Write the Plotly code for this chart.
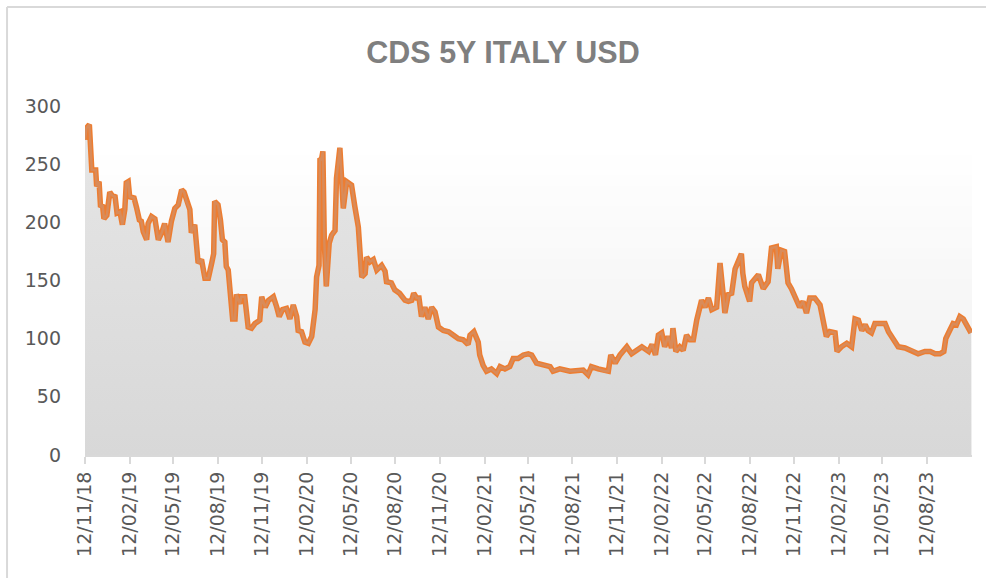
import plotly.graph_objects as go

# ---- data ----
dates = [
    "2018-11-12", "2018-11-15", "2018-11-21", "2018-11-23", "2018-11-26", "2018-12-04", "2018-12-06",
    "2018-12-11", "2018-12-14", "2018-12-18", "2018-12-21", "2018-12-27", "2019-01-02", "2019-01-07",
    "2019-01-13", "2019-01-17", "2019-01-23", "2019-01-28", "2019-02-02", "2019-02-05", "2019-02-09",
    "2019-02-12", "2019-02-21", "2019-02-26", "2019-03-04", "2019-03-08", "2019-03-12", "2019-03-19",
    "2019-03-22", "2019-03-29", "2019-04-05", "2019-04-12", "2019-04-19", "2019-04-25", "2019-05-02",
    "2019-05-09", "2019-05-16", "2019-05-23", "2019-05-30", "2019-06-04", "2019-06-09", "2019-06-16",
    "2019-06-19", "2019-06-26", "2019-07-03", "2019-07-10", "2019-07-17", "2019-07-24", "2019-07-31",
    "2019-08-04", "2019-08-06", "2019-08-13", "2019-08-18", "2019-08-22", "2019-08-27", "2019-08-30",
    "2019-09-03", "2019-09-06", "2019-09-12", "2019-09-17", "2019-09-20", "2019-09-27", "2019-09-30",
    "2019-10-07", "2019-10-14", "2019-10-21", "2019-10-28", "2019-11-04", "2019-11-07", "2019-11-11",
    "2019-11-18", "2019-11-25", "2019-12-05", "2019-12-12", "2019-12-17", "2019-12-24", "2020-01-01",
    "2020-01-08", "2020-01-15", "2020-01-22", "2020-01-25", "2020-02-01", "2020-02-08", "2020-02-15",
    "2020-02-22", "2020-02-29", "2020-03-03", "2020-03-08", "2020-03-09", "2020-03-10", "2020-03-13",
    "2020-03-16", "2020-03-19", "2020-03-23", "2020-03-29", "2020-04-03", "2020-04-10", "2020-04-13",
    "2020-04-20", "2020-04-23", "2020-04-27", "2020-05-04", "2020-05-14", "2020-05-21", "2020-05-28",
    "2020-06-04", "2020-06-11", "2020-06-14", "2020-06-21", "2020-06-28", "2020-07-05", "2020-07-15",
    "2020-07-22", "2020-07-25", "2020-08-04", "2020-08-11", "2020-08-21", "2020-09-01", "2020-09-08",
    "2020-09-15", "2020-09-19", "2020-09-25", "2020-09-30", "2020-10-05", "2020-10-12", "2020-10-19",
    "2020-10-26", "2020-11-02", "2020-11-09", "2020-11-19", "2020-11-30", "2020-12-10", "2020-12-20",
    "2020-12-30", "2021-01-09", "2021-01-13", "2021-01-21", "2021-01-30", "2021-02-02", "2021-02-09",
    "2021-02-16", "2021-02-26", "2021-03-09", "2021-03-16", "2021-03-26", "2021-04-05", "2021-04-12",
    "2021-04-22", "2021-05-03", "2021-05-13", "2021-05-20", "2021-05-30", "2021-06-16", "2021-06-27",
    "2021-07-03", "2021-07-17", "2021-08-07", "2021-09-03", "2021-09-13", "2021-09-20", "2021-10-04",
    "2021-10-18", "2021-10-25", "2021-10-30", "2021-11-08", "2021-11-18", "2021-12-02", "2021-12-12",
    "2021-12-22", "2022-01-02", "2022-01-16", "2022-01-23", "2022-01-30", "2022-02-05", "2022-02-12",
    "2022-02-18", "2022-02-25", "2022-03-04", "2022-03-07", "2022-03-13", "2022-03-21", "2022-03-28",
    "2022-04-04", "2022-04-11", "2022-04-18", "2022-04-25", "2022-05-05", "2022-05-12", "2022-05-19",
    "2022-05-26", "2022-06-05", "2022-06-12", "2022-06-19", "2022-06-22", "2022-06-29", "2022-07-06",
    "2022-07-13", "2022-07-19", "2022-07-26", "2022-07-29", "2022-08-02", "2022-08-12", "2022-08-16",
    "2022-08-26", "2022-08-30", "2022-09-09", "2022-09-19", "2022-09-26", "2022-10-06", "2022-10-09",
    "2022-10-16", "2022-10-23", "2022-10-30", "2022-11-06", "2022-11-17", "2022-11-23", "2022-11-30",
    "2022-12-07", "2022-12-14", "2022-12-24", "2023-01-04", "2023-01-14", "2023-01-17", "2023-01-24",
    "2023-02-04", "2023-02-08", "2023-02-17", "2023-02-28", "2023-03-10", "2023-03-17", "2023-03-24",
    "2023-03-31", "2023-04-07", "2023-04-13", "2023-04-20", "2023-04-27", "2023-05-18", "2023-05-25",
    "2023-06-04", "2023-06-14", "2023-06-28", "2023-07-12", "2023-07-25", "2023-08-08", "2023-08-19",
    "2023-08-29", "2023-09-08", "2023-09-16", "2023-09-20", "2023-09-28", "2023-10-05", "2023-10-12",
    "2023-10-19", "2023-10-26", "2023-11-02", "2023-11-09", "2023-11-11",
]
cds_values = [
    271, 281, 284, 262, 245, 245, 231,
    235, 213, 215, 203, 206, 226, 223,
    222, 208, 209, 198, 211, 234, 235,
    222, 221, 213, 202, 201, 192, 185,
    199, 205, 203, 185, 191, 199, 183,
    201, 212, 215, 228, 226, 218, 211,
    191, 198, 165, 168, 152, 152, 165,
    173, 218, 215, 202, 185, 183, 162,
    159, 145, 117, 117, 138, 130, 136,
    136, 110, 109, 113, 115, 116, 136,
    127, 133, 136, 127, 119, 125, 126,
    117, 129, 119, 107, 106, 97, 96,
    102, 125, 153, 163, 211, 255, 254,
    261, 182, 145, 182, 189, 193, 238,
    264, 239, 212, 235, 232, 213, 196,
    153, 156, 170, 166, 168, 159, 163,
    158, 149, 148, 142, 139, 133, 132,
    133, 139, 135, 135, 119, 127, 117,
    127, 123, 110, 107, 106, 103, 100,
    99, 95, 103, 106, 97, 86, 77,
    72, 74, 70, 76, 74, 76, 83,
    83, 86, 87, 86, 79, 77, 76,
    72, 74, 72, 73, 69, 76, 74,
    72, 72, 86, 79, 86, 93, 87,
    90, 93, 89, 95, 86, 103, 105,
    93, 102, 92, 109, 89, 93, 90,
    103, 99, 99, 116, 133, 127, 135,
    125, 127, 165, 136, 122, 138, 139,
    160, 165, 173, 156, 145, 132, 148,
    153, 155, 143, 149, 178, 179, 160,
    176, 175, 148, 143, 133, 127, 132,
    122, 135, 135, 129, 109, 102, 106,
    105, 89, 93, 96, 93, 117, 116,
    107, 112, 107, 105, 113, 113, 106,
    99, 93, 92, 90, 87, 89, 89,
    87, 87, 89, 100, 107, 113, 112,
    119, 117, 112, 106, 105,
]
tick_dates = [
    "2018-11-12", "2019-02-12", "2019-05-12", "2019-08-12", "2019-11-12",
    "2020-02-12", "2020-05-12", "2020-08-12", "2020-11-12", "2021-02-12",
    "2021-05-12", "2021-08-12", "2021-11-12", "2022-02-12", "2022-05-12",
    "2022-08-12", "2022-11-12", "2023-02-12", "2023-05-12", "2023-08-12",
]
tick_labels = [
    "12/11/18", "12/02/19", "12/05/19", "12/08/19", "12/11/19",
    "12/02/20", "12/05/20", "12/08/20", "12/11/20", "12/02/21",
    "12/05/21", "12/08/21", "12/11/21", "12/02/22", "12/05/22",
    "12/08/22", "12/11/22", "12/02/23", "12/05/23", "12/08/23",
]
y_ticks = [0, 50, 100, 150, 200, 250, 300]

TEXT = "#595959"
GRID = "#d9d9d9"
FONT = "DejaVu Sans"

fig = go.Figure()

# grey gradient area under the curve
fig.add_trace(go.Scatter(
    x=dates, y=cds_values, mode="lines", line=dict(width=0),
    fill="tozeroy",
    fillgradient=dict(type="vertical", start=0, stop=290,
                      colorscale=[[0, "#d8d8d8"], [1, "#e6e6e6"]]),
    hoverinfo="skip", showlegend=False,
))
# orange line (bright rim + muted core)
fig.add_trace(go.Scatter(
    x=dates, y=cds_values, mode="lines",
    line=dict(color="#ED7D31", width=5.5), showlegend=False,
))
fig.add_trace(go.Scatter(
    x=dates, y=cds_values, mode="lines",
    line=dict(color="#D98B59", width=2.5), showlegend=False, hoverinfo="skip",
))

# soft vertical gradient in the plot background
shapes = []
n_bands = 30
top_val = 267
for i in range(n_bands):
    frac = (i + 0.5) / n_bands
    c = int(round(238 + (255 - 238) * frac))
    shapes.append(dict(
        type="rect", xref="paper", yref="y", x0=0, x1=1,
        y0=top_val * i / n_bands, y1=top_val * (i + 1) / n_bands + 0.5,
        fillcolor=f"rgb({c},{c},{c})", line=dict(width=0), layer="below",
    ))
# chart border: only top and left edges are visible in the frame
border_left = -0.0879
border_top = 1.2837
shapes.append(dict(
    type="line", xref="paper", yref="paper",
    x0=border_left, x1=1.3, y0=border_top, y1=border_top,
    line=dict(color=GRID, width=2), layer="above",
))
shapes.append(dict(
    type="line", xref="paper", yref="paper",
    x0=border_left, x1=border_left, y0=border_top, y1=-0.6,
    line=dict(color=GRID, width=2), layer="above",
))

fig.update_layout(
    width=986, height=578,
    margin=dict(l=85, r=14, t=106, b=123, autoexpand=False),
    paper_bgcolor="white", plot_bgcolor="white",
    showlegend=False,
    title=dict(
        text="CDS 5Y ITALY USD",
        font=dict(family="Liberation Sans", size=30.5, color="#7f7f7f", weight="bold"),
        x=503 / 986, xanchor="center", y=1 - 52 / 578, yanchor="middle",
    ),
    shapes=shapes,
    xaxis=dict(
        type="date", range=["2018-11-12", "2023-11-13"], automargin=False,
        tickmode="array", tickvals=tick_dates, ticktext=tick_labels,
        tickangle=-90, ticks="outside", ticklen=7, tickwidth=2, tickcolor=GRID,
        showline=True, linecolor=GRID, linewidth=2,
        showgrid=False, zeroline=False,
        tickfont=dict(family=FONT, size=19, color=TEXT),
    ),
    yaxis=dict(
        range=[0, 300], tickmode="array", tickvals=y_ticks, automargin=False,
        showgrid=False, zeroline=False, showline=False, ticks="",
        ticklabelstandoff=23,
        tickfont=dict(family=FONT, size=19, color=TEXT),
    ),
)

fig.write_html(
    "out.html",
    config={"displayModeBar": False},
    post_script="document.body.style.margin='0';document.body.style.overflow='hidden';",
)
